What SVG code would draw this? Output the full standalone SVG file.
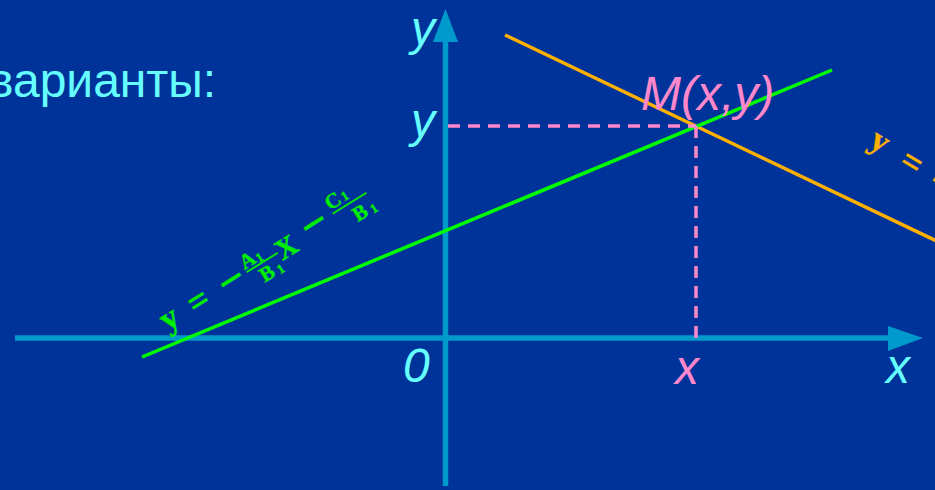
<svg xmlns="http://www.w3.org/2000/svg" width="935" height="490" viewBox="0 0 935 490">
<style>
.axis{stroke:#0099cc;stroke-width:5.5;fill:none}
.arrow{fill:#0099cc}
.dash{stroke:#ff88cc;stroke-width:3.5;stroke-dasharray:12 8;fill:none}
.lbl{font-family:"Liberation Sans",Arial,sans-serif;font-size:48px;font-style:italic}
.cyan{fill:#66ffff}
.pink{fill:#ff88cc}
.fg{font-family:"Liberation Serif","Times New Roman",serif;font-weight:bold;fill:#00ee00;stroke:#00ee00;stroke-width:0.4;text-anchor:middle}
.fo{font-family:"Liberation Serif","Times New Roman",serif;font-weight:bold;fill:#ffb000;stroke:#ffb000;stroke-width:0.4;text-anchor:middle}
</style>
<rect width="935" height="490" fill="#003399"/>
<g id="axes">
  <line class="axis" x1="15" y1="338" x2="890" y2="338"/>
  <polygon class="arrow" points="888,326 923,338 888,351"/>
  <line class="axis" x1="445.5" y1="486" x2="445.5" y2="40"/>
  <polygon class="arrow" points="433,42 445.5,9 458,42"/>
</g>
<g id="connectors">
  <line id="line-orange" x1="505" y1="35" x2="945" y2="245" stroke="#ffb000" stroke-width="3.5"/>
  <line id="line-green" x1="142" y1="357" x2="832" y2="70" stroke="#00ff00" stroke-width="3.5"/>
  <path class="dash" d="M448,126 H696"/>
  <path class="dash" d="M696,126 V338"/>
</g>
<g id="title">
  <text x="-12" y="97" font-family="'Liberation Sans',Arial,sans-serif" font-size="48" class="cyan">варианты:</text>
</g>
<g id="labels">
  <text class="lbl cyan" x="411" y="45">y</text>
  <text class="lbl cyan" x="411" y="137">y</text>
  <text class="lbl cyan" x="403" y="382">0</text>
  <text class="lbl cyan" x="886" y="383">x</text>
  <text class="lbl pink" x="675" y="384">x</text>
  <text class="lbl pink" x="641" y="110" font-size="47">M(x,y)</text>
</g>
<g id="formula-green" transform="translate(172,323) rotate(-32)">
  <text class="fg" x="0" y="5" font-size="34">y</text>
  <text class="fg" x="34" y="7" font-size="36">=</text>
  <text class="fg" x="73" y="10" font-size="46">−</text>
  <text class="fg" x="97" y="-6.5" font-size="21">A</text>
  <text class="fg" x="109" y="-5" font-size="13">1</text>
  <line x1="90" y1="-3.5" x2="127" y2="-3.5" stroke="#00ee00" stroke-width="1.8"/>
  <text class="fg" x="107" y="15" font-size="21">B</text>
  <text class="fg" x="121" y="16" font-size="13">1</text>
  <text class="fg" x="137" y="6" font-size="29">X</text>
  <text class="fg" x="173" y="6" font-size="46">−</text>
  <text class="fg" x="201" y="-11.5" font-size="21">C</text>
  <text class="fg" x="214" y="-12" font-size="13">1</text>
  <line x1="194" y1="-7.5" x2="234" y2="-7.5" stroke="#00ee00" stroke-width="1.8"/>
  <text class="fg" x="218" y="13" font-size="21">B</text>
  <text class="fg" x="232" y="14" font-size="13">1</text>
</g>
<g id="formula-orange" transform="translate(878,145) rotate(31)">
  <text class="fo" x="0" y="6" font-size="34">y</text>
  <text class="fo" x="38" y="9" font-size="36">=</text>
  <text class="fo" x="76" y="16" font-size="46">−</text>
</g>
</svg>
